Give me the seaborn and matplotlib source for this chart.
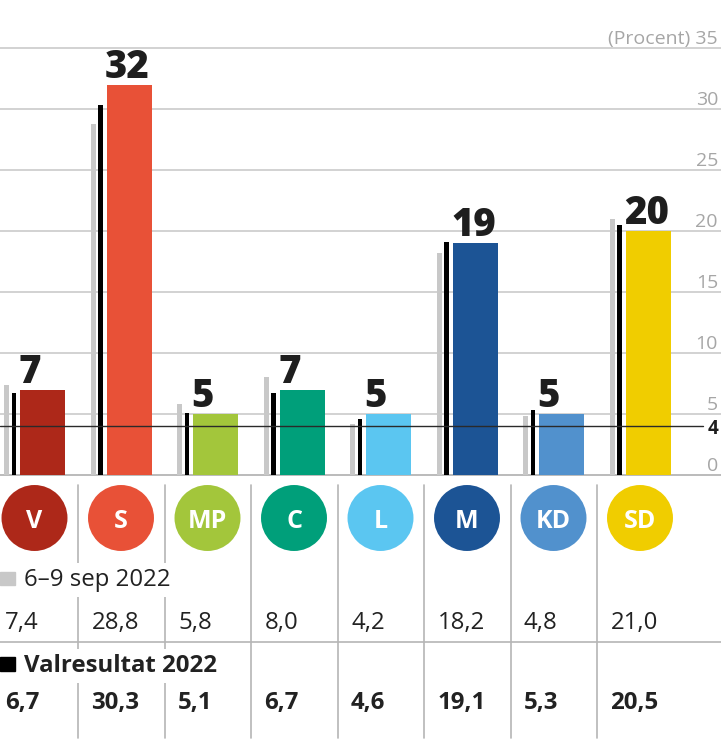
import numpy as np
import matplotlib
matplotlib.use("Agg")
import matplotlib.pyplot as plt
import seaborn as sns
from matplotlib.patches import Rectangle
from matplotlib import font_manager as fm

# ---------------- data ----------------
parties = ["V", "S", "MP", "C", "L", "M", "KD", "SD"]
current = [7, 32, 5, 7, 5, 19, 5, 20]
poll = [7.4, 28.8, 5.8, 8.0, 4.2, 18.2, 4.8, 21.0]
result = [6.7, 30.3, 5.1, 6.7, 4.6, 19.1, 5.3, 20.5]
poll_label = "6–9 sep 2022"
result_label = "Valresultat 2022"
y_ticks = [0, 5, 10, 15, 20, 25, 30, 35]
y_unit = "(Procent) "
threshold = 4
colors = ["#AD2819", "#E85137", "#A3C63B", "#009F7A",
          "#5BC6F1", "#1C5495", "#5191CD", "#F0CD00"]


def fmt(v):
    return f"{v:.1f}".replace(".", ",")


def font_file(fam, weight):
    try:
        return fm.findfont(fm.FontProperties(family=fam, weight=weight),
                           fallback_to_default=False)
    except Exception:
        return ""


# choose a family that really has a bold face
family = "DejaVu Sans"
for fam in ["Noto Sans", "Open Sans", "Lato", "Roboto"]:
    f = font_file(fam, "bold").lower()
    if f and "bold" in f and fam.replace(" ", "").lower() in f.replace(" ", "").replace("-", "").replace("_", "").lower():
        family = fam
        break
# heavy face for the big numbers if available
heavy_family, heavy_weight = family, "bold"
for fam in [family, "Noto Sans", "Open Sans", "Lato", "Roboto", "Inter"]:
    for w in [900, 800]:
        f = font_file(fam, w).lower()
        if f and ("black" in f or "extrabold" in f or "heavy" in f):
            heavy_family, heavy_weight = fam, w
            break
    else:
        continue
    break

sns.set_theme(style="white")
plt.rcParams["font.family"] = [family, "DejaVu Sans"]

W, H = 721, 744
fig = plt.figure(figsize=(W / 100, H / 100), dpi=100)

# ---------------- bar chart ----------------
y0_px, ytop_px = 475, 48
ax = fig.add_axes([0, (H - y0_px) / H, 1, (y0_px - ytop_px) / H])
step = 86.5
idx = np.arange(len(parties))
grey_x = 6.5 + step * idx
black_x = 14.0 + step * idx
col_x = 42.5 + step * idx
col_w = 45.0

grid_c = "#C6C6C6"
for t in y_ticks:
    ax.axhline(t, color="#A8A8A8" if t == 0 else grid_c, lw=1.1, zorder=0, clip_on=False)
    lab = (y_unit if t == y_ticks[-1] else "") + str(t)
    ax.annotate(lab, xy=(718, t), xytext=(0, 3), textcoords="offset points",
                ha="right", va="baseline", fontsize=14, color="#A6A6A6", zorder=1)

sns.barplot(x=grey_x, y=poll, color="#C8C8C8", native_scale=True, width=5.0 / step,
            saturation=1, linewidth=0, errorbar=None, ax=ax, zorder=2)
sns.barplot(x=black_x, y=result, color="#000000", native_scale=True, width=4.5 / step,
            saturation=1, linewidth=0, errorbar=None, ax=ax, zorder=2)
sns.barplot(x=col_x, y=current, hue=parties, palette=colors, dodge=False,
            native_scale=True, width=col_w / step, saturation=1, linewidth=0,
            errorbar=None, legend=False, ax=ax, zorder=2)

for x, v in zip(col_x, current):
    ax.annotate(str(v), xy=(x - col_w / 2, v), xytext=(-1, 5), textcoords="offset points",
                ha="left", va="baseline", fontsize=27.5, fontweight=heavy_weight,
                family=[heavy_family, "DejaVu Sans"], color="#1E1E1E", zorder=4)

ax.axhline(threshold, xmin=0, xmax=703 / W, color="#2A2A2A", lw=1.0, zorder=3)
ax.text(718, threshold, str(threshold), ha="right", va="center_baseline",
        fontsize=13.5, fontweight="bold", color="#1E1E1E")

ax.set_xlim(0, W)
ax.set_ylim(0, 35)
ax.axis("off")

# ---------------- table below ----------------
ax2 = fig.add_axes([0, 0, 1, 1])
circ_x = 34.5 + step * idx
sns.scatterplot(x=circ_x, y=[518] * len(parties), hue=parties, palette=colors,
                s=2256, linewidth=0, legend=False, ax=ax2, zorder=2)
for x, p in zip(circ_x, parties):
    ax2.text(x, 519, p, ha="center", va="center_baseline", fontsize=18,
             fontweight="bold", color="white", zorder=3)

line_c = "#B5B5B5"
for k in range(len(parties) - 1):
    ax2.plot([78 + step * k] * 2, [485, 738], color=line_c, lw=1.2, zorder=1)
ax2.plot([0, W], [642, 642], color=line_c, lw=1.2, zorder=1)

ax2.add_patch(Rectangle((0, 572), 15, 13, color="#C8C8C8", zorder=3))
ax2.text(24, 586, poll_label, ha="left", va="baseline", fontsize=17.3, color="#222222",
         zorder=3, bbox=dict(boxstyle="square,pad=0.2", fc="white", ec="none"))
ax2.add_patch(Rectangle((0, 657), 15, 14, color="#000000", zorder=3))
ax2.text(24, 672, result_label, ha="left", va="baseline", fontsize=17.3,
         fontweight="bold", color="#222222", zorder=3,
         bbox=dict(boxstyle="square,pad=0.2", fc="white", ec="none"))

for i in idx:
    x = 5 + step * i
    ax2.text(x, 628.5, fmt(poll[i]), ha="left", va="baseline", fontsize=17.3,
             color="#222222", zorder=3)
    ax2.text(x, 709.5, fmt(result[i]), ha="left", va="baseline", fontsize=17.3,
             fontweight="bold", color="#222222", zorder=3)

ax2.set_xlim(0, W)
ax2.set_ylim(H, 0)
ax2.axis("off")

fig.savefig("out.png", dpi=100, facecolor="white")
